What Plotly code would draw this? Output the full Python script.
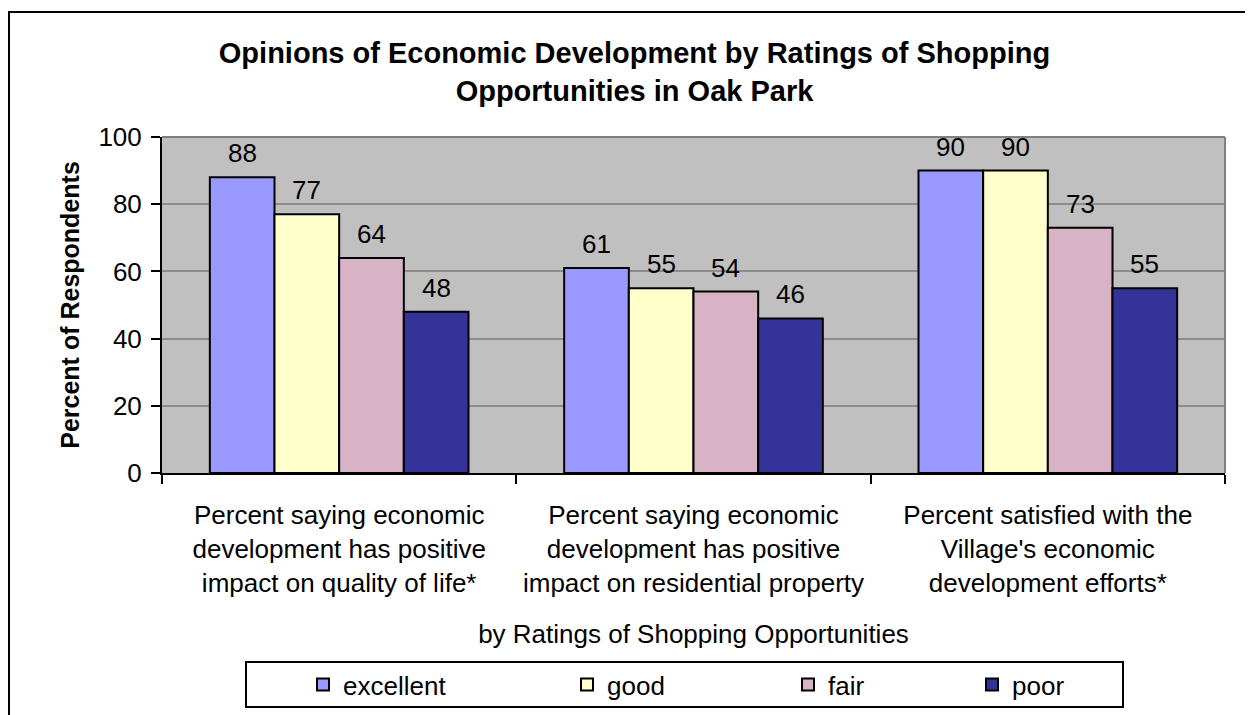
import plotly.graph_objects as go

categories = [
    "Percent saying economic<br>development has positive<br>impact on quality of life*",
    "Percent saying economic<br>development has positive<br>impact on residential property",
    "Percent satisfied with the<br>Village's economic<br>development efforts*",
]
series_names = ["excellent", "good", "fair", "poor"]
excellent = [88, 61, 90]
good = [77, 55, 90]
fair = [64, 54, 73]
poor = [48, 46, 55]
series_values = [excellent, good, fair, poor]
colors = ["#9999FF", "#FFFFCC", "#D8B2C5", "#333399"]

title_text = "Opinions of Economic Development by Ratings of Shopping<br>Opportunities in Oak Park"
y_title = "Percent of Respondents"
x_title = "by Ratings of Shopping Opportunities"
y_ticks = [0, 20, 40, 60, 80, 100]

FONT = "Liberation Sans, Arial, sans-serif"

W, H = 1253, 715
L, R, T, B = 154, 36, 129, 250
pw, ph = W - L - R, H - T - B
BARGAP = 0.27


def px_x(fx):
    return (fx - L) / pw


def px_y(fy):
    return (H - B - fy) / ph


legend_ids = ["legend", "legend2", "legend3", "legend4"]
legend_x_fig = [295, 559, 780, 964]

fig = go.Figure()
for name, vals, col, lid in zip(series_names, series_values, colors, legend_ids):
    fig.add_trace(go.Bar(
        x=categories, y=vals, name=name, legend=lid,
        marker=dict(color=col, line=dict(color="black", width=2)),
        cliponaxis=False,
    ))

# value labels above the bars
bar_w = pw / len(categories) * (1 - BARGAP) / len(series_names)
for i, vals in enumerate(series_values):
    for cat, v in zip(categories, vals):
        fig.add_annotation(
            x=cat, y=v, xref="x", yref="y", text=str(v), showarrow=False,
            xshift=(i - (len(series_names) - 1) / 2) * bar_w, yshift=24,
            yanchor="middle", xanchor="center",
            font=dict(family=FONT, size=26, color="black"),
        )

legend_common = dict(orientation="h", yanchor="middle", xanchor="left",
                     bgcolor="rgba(0,0,0,0)", borderwidth=0,
                     font=dict(family=FONT, size=26, color="black"),
                     itemwidth=30)
layout_legends = {}
for lid, lx in zip(legend_ids, legend_x_fig):
    layout_legends[lid] = dict(legend_common, x=px_x(lx), y=px_y(676.5))

fig.update_layout(
    width=W, height=H,
    margin=dict(l=L, r=R, t=T, b=B),
    paper_bgcolor="white", plot_bgcolor="#C0C0C0",
    barmode="group", bargap=BARGAP, bargroupgap=0,
    font=dict(family=FONT, size=26, color="black"),
    title=dict(text="<b>" + title_text + "</b>", x=0.5, xanchor="center",
               y=1 - 55 / H, yanchor="top",
               font=dict(family=FONT, size=29, color="black")),
    showlegend=True,
    **layout_legends,
)

fig.update_xaxes(
    showline=True, linecolor="black", linewidth=2,
    ticks="outside", tickson="boundaries", ticklen=9, tickcolor="black", tickwidth=2,
    tickfont=dict(family=FONT, size=26, color="black"),
    ticklabelstandoff=18,
    title=dict(text=x_title, font=dict(family=FONT, size=26, color="black"), standoff=28),
    showgrid=False,
)
fig.update_yaxes(
    range=[0, 100], tickvals=y_ticks,
    showline=True, linecolor="black", linewidth=2,
    ticks="outside", ticklen=9, tickcolor="black", tickwidth=2,
    tickfont=dict(family=FONT, size=26, color="black"),
    ticklabelstandoff=4,
    showgrid=True, gridcolor="#8C8C8C", gridwidth=2,
    title=dict(text="<b>" + y_title + "</b>", font=dict(family=FONT, size=25, color="black"), standoff=12),
    zeroline=False,
)

# plot area border (top/right gray)
fig.add_shape(type="line", xref="paper", yref="paper", x0=0, x1=1, y0=1, y1=1,
              line=dict(color="#808080", width=2), layer="above")
fig.add_shape(type="line", xref="paper", yref="paper", x0=1, x1=1, y0=0, y1=1,
              line=dict(color="#808080", width=2), layer="above")
# legend box
fig.add_shape(type="rect", xref="paper", yref="paper",
              x0=px_x(238), x1=px_x(1115), y0=px_y(699), y1=px_y(654),
              line=dict(color="black", width=2), fillcolor="rgba(0,0,0,0)", layer="below")
# outer chart border
fig.add_shape(type="rect", xref="paper", yref="paper",
              x0=px_x(1), x1=px_x(W + 20), y0=px_y(H + 20), y1=px_y(4),
              line=dict(color="black", width=2), fillcolor="rgba(0,0,0,0)", layer="below")

fig.write_html("out.html")
